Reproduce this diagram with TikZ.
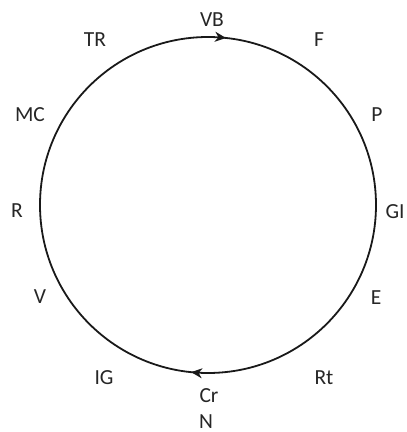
\documentclass[tikz,border=0pt]{standalone}
\usepackage{fontspec}
\setmainfont{Carlito}
\usetikzlibrary{arrows.meta,decorations.markings}
\begin{document}
\begin{tikzpicture}[x=1pt,y=1pt,
  lbl/.style={anchor=base,inner sep=0pt,font=\fontsize{21.5}{24}\selectfont,text=black!85},
  cyc/.style={line width=1.8pt,black!90,postaction={decorate},
    decoration={markings,
      mark=at position 0.017 with {\arrow{Stealth[length=11pt,width=10pt,inset=3.5pt]}},
      mark=at position 0.516 with {\arrow{Stealth[length=11pt,width=10pt,inset=3.5pt]}}}}]
\useasboundingbox (0,0) rectangle (407,432);
\coordinate (c) at (208,227);
\draw[cyc] (c) ++(0,168) arc[start angle=90,end angle=-270,radius=168];
\node[lbl] (vb) at (212,405) {VB};
\node[lbl] (tr) at (95,385) {TR};
\node[lbl] (f) at (319,385) {F};
\node[lbl] (mc) at (30,310) {MC};
\node[lbl] (p) at (377,310) {P};
\node[lbl] (r) at (17,214) {R};
\node[lbl] (gi) at (395,213) {GI};
\node[lbl] (v) at (40,128) {V};
\node[lbl] (e) at (376,127) {E};
\node[lbl] (ig) at (104,48) {IG};
\node[lbl] (rt) at (324,48) {Rt};
\node[lbl] (cr) at (209,29) {Cr};
\node[lbl] (n) at (206,4) {N};
\end{tikzpicture}
\end{document}
